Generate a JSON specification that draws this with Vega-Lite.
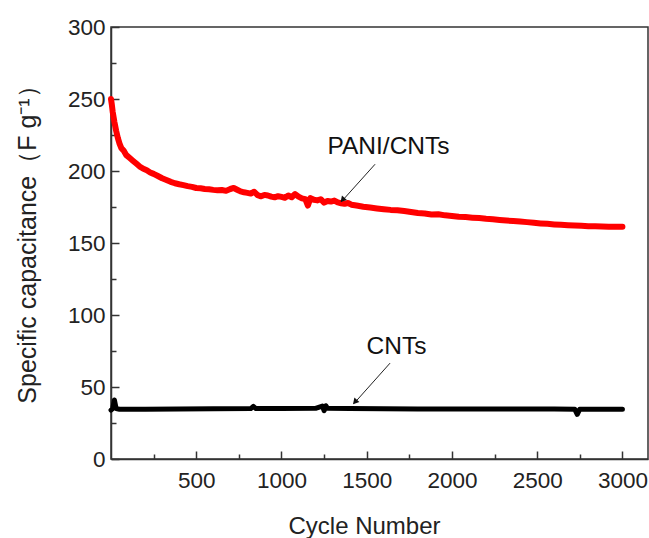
{
  "$schema": "https://vega.github.io/schema/vega-lite/v6.json",
  "width": 537,
  "height": 432,
  "autosize": {"type": "none"},
  "padding": {"left": 111, "top": 27, "right": 1, "bottom": 79},
  "background": "white",
  "config": {
    "view": {"stroke": "#333333", "strokeWidth": 1.5},
    "font": "Liberation Sans",
    "axis": {"labelFont": "Liberation Sans", "titleFont": "Liberation Sans", "labelColor": "#222222", "titleColor": "#222222", "domainColor": "#333333", "domainWidth": 1.5, "tickColor": "#333333", "tickWidth": 1.5, "ticks": true, "grid": false, "labelFlush": false, "labelOverlap": false, "zindex": 2}
  },
  "resolve": {"axis": {"x": "independent", "y": "independent"}},
  "datasets": {
    "pani": [
      {"cycle": 0, "cap": 250}, {"cycle": 5, "cap": 246}, {"cycle": 10, "cap": 241}, {"cycle": 20, "cap": 234},
      {"cycle": 30, "cap": 228}, {"cycle": 40, "cap": 223}, {"cycle": 50, "cap": 219}, {"cycle": 60, "cap": 216},
      {"cycle": 75, "cap": 214}, {"cycle": 90, "cap": 211}, {"cycle": 110, "cap": 209}, {"cycle": 130, "cap": 207},
      {"cycle": 150, "cap": 205}, {"cycle": 170, "cap": 203}, {"cycle": 190, "cap": 201.5}, {"cycle": 210, "cap": 200.5},
      {"cycle": 230, "cap": 199}, {"cycle": 250, "cap": 198}, {"cycle": 275, "cap": 196.5}, {"cycle": 300, "cap": 195},
      {"cycle": 325, "cap": 193.8}, {"cycle": 350, "cap": 192.5}, {"cycle": 375, "cap": 191.5}, {"cycle": 400, "cap": 190.8},
      {"cycle": 425, "cap": 190.2}, {"cycle": 450, "cap": 189.5}, {"cycle": 475, "cap": 189}, {"cycle": 500, "cap": 188.2},
      {"cycle": 525, "cap": 188}, {"cycle": 550, "cap": 187.5}, {"cycle": 575, "cap": 187.3}, {"cycle": 600, "cap": 186.9},
      {"cycle": 625, "cap": 186.6}, {"cycle": 650, "cap": 186.8}, {"cycle": 675, "cap": 186.2}, {"cycle": 700, "cap": 187.5},
      {"cycle": 720, "cap": 188.2}, {"cycle": 740, "cap": 187}, {"cycle": 760, "cap": 185.8}, {"cycle": 780, "cap": 185.2},
      {"cycle": 800, "cap": 184.8}, {"cycle": 820, "cap": 184.3}, {"cycle": 840, "cap": 185.6}, {"cycle": 860, "cap": 183.2},
      {"cycle": 880, "cap": 182.4}, {"cycle": 900, "cap": 183.4}, {"cycle": 920, "cap": 183}, {"cycle": 940, "cap": 182.2},
      {"cycle": 960, "cap": 181.7}, {"cycle": 980, "cap": 182.5}, {"cycle": 1000, "cap": 182}, {"cycle": 1020, "cap": 181.4},
      {"cycle": 1040, "cap": 183}, {"cycle": 1060, "cap": 181.8}, {"cycle": 1080, "cap": 184}, {"cycle": 1100, "cap": 182.2},
      {"cycle": 1120, "cap": 181}, {"cycle": 1140, "cap": 180.5}, {"cycle": 1155, "cap": 176}, {"cycle": 1170, "cap": 181.2},
      {"cycle": 1190, "cap": 180}, {"cycle": 1210, "cap": 179.6}, {"cycle": 1230, "cap": 180.4}, {"cycle": 1250, "cap": 178},
      {"cycle": 1270, "cap": 179.2}, {"cycle": 1290, "cap": 178.8}, {"cycle": 1310, "cap": 179.5}, {"cycle": 1330, "cap": 178.2},
      {"cycle": 1350, "cap": 177.6}, {"cycle": 1370, "cap": 177.2}, {"cycle": 1390, "cap": 177.8}, {"cycle": 1410, "cap": 176.6},
      {"cycle": 1440, "cap": 176}, {"cycle": 1480, "cap": 175.2}, {"cycle": 1520, "cap": 174.6}, {"cycle": 1560, "cap": 174},
      {"cycle": 1600, "cap": 173.5}, {"cycle": 1640, "cap": 173}, {"cycle": 1680, "cap": 172.8}, {"cycle": 1720, "cap": 172.2},
      {"cycle": 1760, "cap": 171.5}, {"cycle": 1800, "cap": 170.8}, {"cycle": 1840, "cap": 170.5}, {"cycle": 1880, "cap": 169.8},
      {"cycle": 1920, "cap": 170}, {"cycle": 1960, "cap": 169.2}, {"cycle": 2000, "cap": 168.8}, {"cycle": 2040, "cap": 168.2},
      {"cycle": 2080, "cap": 168}, {"cycle": 2120, "cap": 167.6}, {"cycle": 2160, "cap": 167.3}, {"cycle": 2200, "cap": 166.8},
      {"cycle": 2240, "cap": 166.5}, {"cycle": 2280, "cap": 166}, {"cycle": 2320, "cap": 165.6}, {"cycle": 2360, "cap": 165.3},
      {"cycle": 2400, "cap": 164.9}, {"cycle": 2440, "cap": 164.5}, {"cycle": 2480, "cap": 164}, {"cycle": 2520, "cap": 163.6},
      {"cycle": 2560, "cap": 163.3}, {"cycle": 2600, "cap": 162.9}, {"cycle": 2640, "cap": 162.6}, {"cycle": 2680, "cap": 162.3},
      {"cycle": 2720, "cap": 162.1}, {"cycle": 2760, "cap": 161.9}, {"cycle": 2800, "cap": 161.7}, {"cycle": 2840, "cap": 161.6},
      {"cycle": 2880, "cap": 161.4}, {"cycle": 2920, "cap": 161.3}, {"cycle": 2960, "cap": 161.2}, {"cycle": 3000, "cap": 161.2}
    ],
    "cnts": [
      {"cycle": 0, "cap": 34}, {"cycle": 10, "cap": 35}, {"cycle": 20, "cap": 41}, {"cycle": 30, "cap": 35},
      {"cycle": 50, "cap": 34.5}, {"cycle": 200, "cap": 34.6}, {"cycle": 400, "cap": 34.8}, {"cycle": 600, "cap": 34.9},
      {"cycle": 820, "cap": 35}, {"cycle": 835, "cap": 36.5}, {"cycle": 850, "cap": 35}, {"cycle": 1000, "cap": 35.1},
      {"cycle": 1200, "cap": 35.2}, {"cycle": 1240, "cap": 36.8}, {"cycle": 1250, "cap": 33.5}, {"cycle": 1260, "cap": 37},
      {"cycle": 1270, "cap": 35.2}, {"cycle": 1400, "cap": 35}, {"cycle": 1600, "cap": 34.9}, {"cycle": 1800, "cap": 34.8},
      {"cycle": 2000, "cap": 34.8}, {"cycle": 2200, "cap": 34.7}, {"cycle": 2400, "cap": 34.7}, {"cycle": 2600, "cap": 34.7},
      {"cycle": 2720, "cap": 34.6}, {"cycle": 2735, "cap": 31}, {"cycle": 2750, "cap": 34.6}, {"cycle": 2900, "cap": 34.6},
      {"cycle": 3000, "cap": 34.6}
    ],
    "arrows": [
      {"cycle": 1549, "cap": 204.7, "cycle2": 1350, "cap2": 178.5, "hx": 1358, "hy": 180},
      {"cycle": 1637, "cap": 66.6, "cycle2": 1425, "cap2": 38.5, "hx": 1431, "hy": 39.6}
    ],
    "labels": [
      {"cycle": 1628, "cap": 216.9, "label": "PANI/CNTs"},
      {"cycle": 1675, "cap": 77.7, "label": "CNTs"}
    ]
  },
  "layer": [
    {
      "data": {"name": "pani"},
      "mark": {"type": "line", "color": "#ff0000", "strokeWidth": 6, "strokeCap": "round", "strokeJoin": "round"},
      "encoding": {
        "x": {
          "field": "cycle", "type": "quantitative",
          "scale": {"domain": [0, 3150], "nice": false, "zero": false},
          "axis": {
            "orient": "bottom",
            "title": "Cycle Number",
            "values": [500, 1000, 1500, 2000, 2500, 3000],
            "format": "d",
            "tickSize": -8,
            "labelPadding": 18,
            "labelFontSize": 22.5,
            "titleFontSize": 24,
            "titleFontWeight": "normal",
            "titleX": 253,
            "titleY": 67,
            "titleBaseline": "middle",
            "titleAlign": "center"
          }
        },
        "y": {
          "field": "cap", "type": "quantitative",
          "scale": {"domain": [0, 300], "nice": false},
          "axis": {
            "orient": "left",
            "title": "Specific capacitance（F g⁻¹）",
            "values": [0, 50, 100, 150, 200, 250, 300],
            "format": "d",
            "tickSize": -8,
            "labelPadding": 14,
            "labelFontSize": 22.5,
            "titleFontSize": 25,
            "titleFontWeight": "normal",
            "titleAngle": -90,
            "titleX": -84,
            "titleY": 211,
            "titleBaseline": "middle",
            "titleAlign": "center"
          }
        }
      }
    },
    {
      "data": {"name": "cnts"},
      "mark": {"type": "line", "color": "#000000", "strokeWidth": 5, "strokeCap": "round", "strokeJoin": "round"},
      "encoding": {
        "x": {
          "field": "cycle", "type": "quantitative",
          "axis": {"orient": "bottom", "values": [250, 750, 1250, 1750, 2250, 2750], "tickSize": -5, "labels": false, "domain": false, "title": null}
        },
        "y": {
          "field": "cap", "type": "quantitative",
          "axis": {"orient": "left", "values": [25, 75, 125, 175, 225, 275], "tickSize": -5, "labels": false, "domain": false, "title": null}
        }
      }
    },
    {
      "data": {"name": "arrows"},
      "mark": {"type": "rule", "color": "#222222", "strokeWidth": 1},
      "encoding": {
        "x": {"field": "cycle", "type": "quantitative", "axis": null},
        "y": {"field": "cap", "type": "quantitative", "axis": null},
        "x2": {"field": "cycle2"},
        "y2": {"field": "cap2"}
      }
    },
    {
      "data": {"name": "arrows"},
      "mark": {"type": "point", "shape": "triangle-up", "filled": true, "color": "#111111", "size": 45, "angle": 222, "opacity": 1},
      "encoding": {
        "x": {"field": "hx", "type": "quantitative", "axis": null},
        "y": {"field": "hy", "type": "quantitative", "axis": null}
      }
    },
    {
      "data": {"name": "labels"},
      "mark": {"type": "text", "font": "Liberation Sans", "fontSize": 24.5, "color": "#111111", "align": "center", "baseline": "middle"},
      "encoding": {
        "x": {"field": "cycle", "type": "quantitative", "axis": null},
        "y": {"field": "cap", "type": "quantitative", "axis": null},
        "text": {"field": "label"}
      }
    }
  ]
}
